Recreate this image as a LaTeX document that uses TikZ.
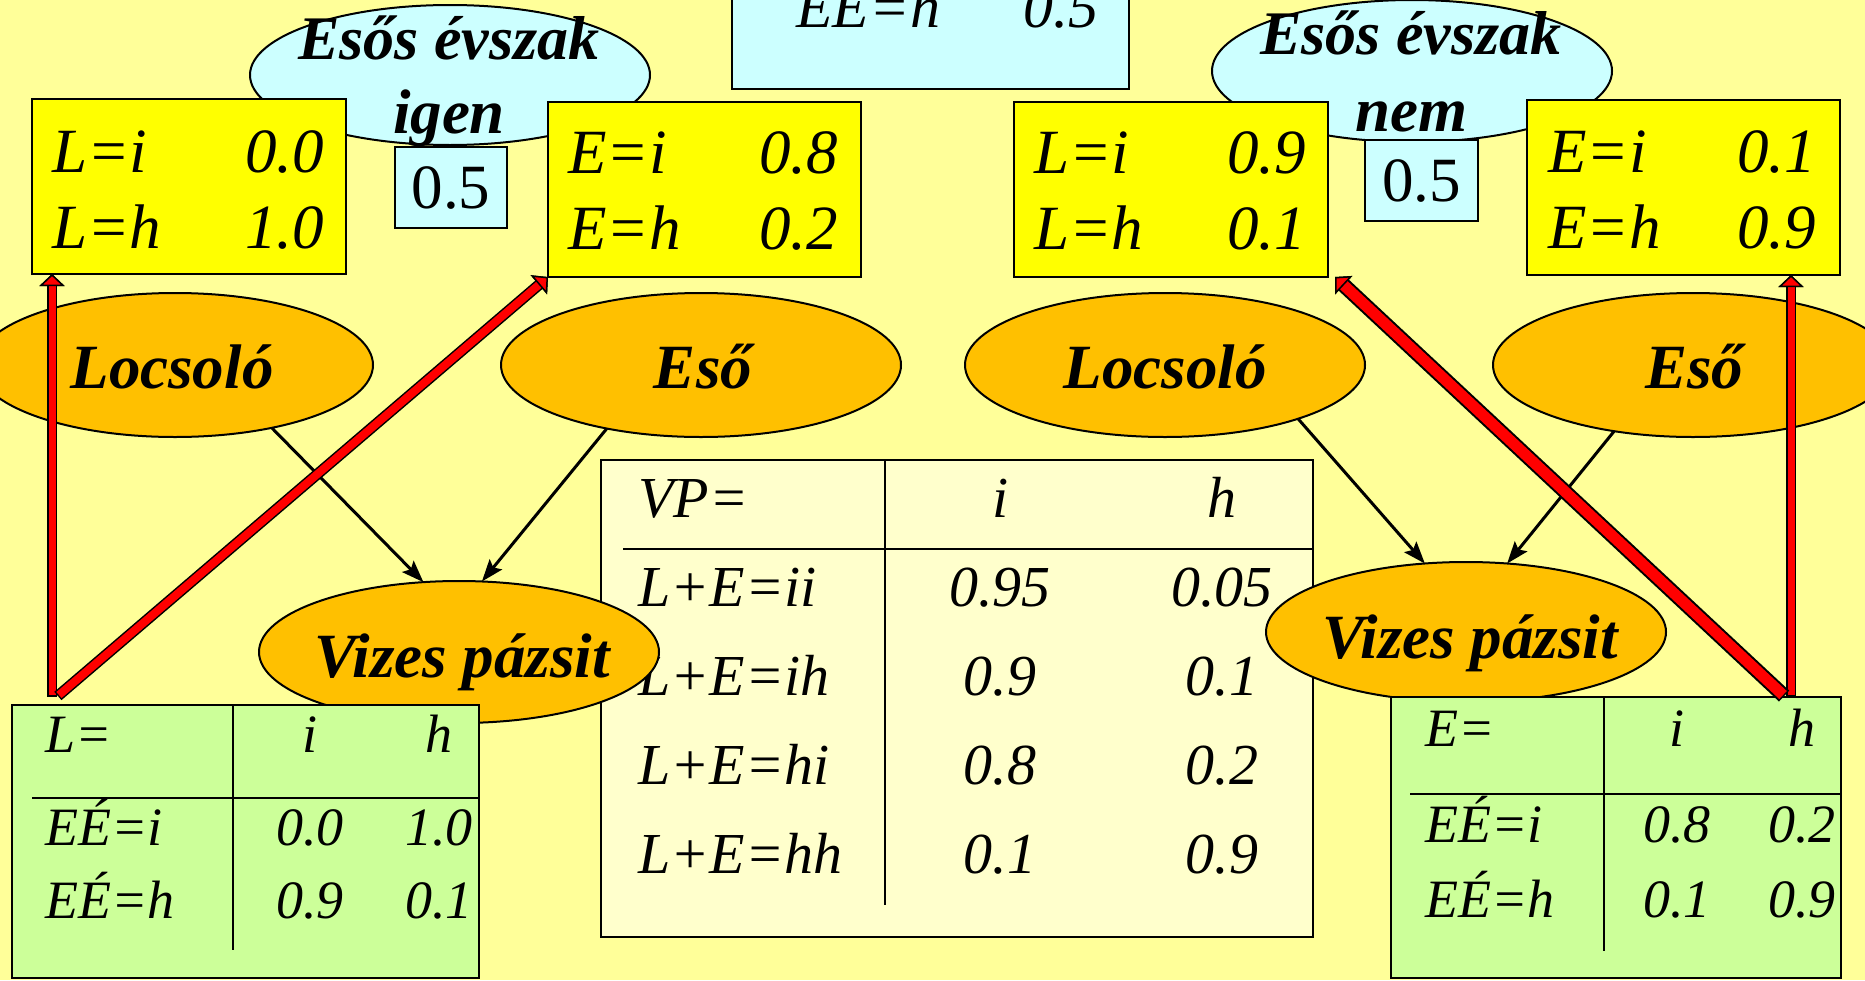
\documentclass[tikz,border=0pt]{standalone}
\usepackage{fontspec}
\setmainfont{Liberation Serif}
\usepackage{array}
\usetikzlibrary{arrows.meta,shapes.geometric,calc}

\definecolor{bgyel}{HTML}{FFFF99}
\definecolor{orng}{HTML}{FFC000}
\definecolor{cyanl}{HTML}{CCFFFF}
\definecolor{yelbox}{HTML}{FFFF00}
\definecolor{grn}{HTML}{CCFF99}
\definecolor{cream}{HTML}{FFFFCC}

\begin{document}
\begin{tikzpicture}[
  x=1pt,y=-1pt,
  var/.style={ellipse, draw=black, line width=2pt, fill=orng, outer sep=0pt, inner sep=0pt, minimum width=400pt, minimum height=144pt},
  season/.style={var, fill=cyanl, minimum height=142pt},
  cpt/.style={draw=black, line width=2.5pt, fill=yelbox, outer sep=0pt, inner sep=0pt, minimum width=314pt, minimum height=175pt},
  prior/.style={draw=black, line width=2.5pt, fill=cyanl, outer sep=0pt, inner sep=0pt, minimum width=112pt, minimum height=81pt, font=\fontsize{63}{76}\selectfont},
  tab/.style={draw=black, line width=2.5pt, outer sep=0pt, inner sep=0pt},
  rule/.style={draw=black, line width=2pt},
  varname/.style={anchor=base, inner sep=0pt, font=\fontsize{63}{74}\selectfont\bfseries\itshape},
  cell/.style={anchor=base west, inner sep=0pt, font=\fontsize{63}{76}\selectfont\itshape},
  vpcell/.style={cell, font=\fontsize{58}{89}\selectfont\itshape},
  lcell/.style={cell, font=\fontsize{54}{73}\selectfont\itshape},
  ecell/.style={cell, font=\fontsize{54}{75}\selectfont\itshape},
  dep/.style={-{Stealth[length=22pt,width=16pt,inset=4pt]}, line width=3pt},
  evid/.style 2 args={draw=red, line width=#1,
    -{Triangle[width=25pt,length=12pt,line width=1.5pt,fill=red,color=black]},
    preaction={draw=black, line width=#2, shorten <=-1.5pt,
      -{Triangle[width=25pt,length=12pt,line width=1.5pt,fill=black,color=black]}}}
]
\useasboundingbox (0,0) rectangle (1865,980);
\fill[bgyel] (0,0) rectangle (1865,980);

% top prior table (cut by the page edge)
\node[tab, fill=cyanl, minimum width=397pt, minimum height=189pt] (eetab) at (930.5,-5.5) {};
\node[cell, font=\fontsize{60}{76}\selectfont\itshape] (eetxt) at (796,27)
  {\begin{tabular*}{302pt}[t]{@{}l@{\extracolsep{\fill}}r@{}}EÉ=h & 0.5\end{tabular*}};

% ================= rainy season: yes =================
\node[season, minimum height=140pt] (esy) at (450,75) {};
\node[cpt] (lyes) at (189,186.5) {};
\node[cpt, minimum width=313pt] (eyes) at (704.5,189.5) {};
\node[prior] (py) at (451,187.5) {0.5};
\node[varname, font=\fontsize{62}{74}\selectfont\bfseries\itshape] (esyt) at (449,59) {Esős évszak};
\node[varname] (esyv) at (449,133) {igen};
\node[cell] (lyest) at (52,172)
  {\begin{tabular*}{272pt}[t]{@{}l@{\extracolsep{\fill}}r@{}}L=i & 0.0\\ L=h & 1.0\end{tabular*}};
\node[cell] (eyest) at (568,173)
  {\begin{tabular*}{270pt}[t]{@{}l@{\extracolsep{\fill}}r@{}}E=i & 0.8\\ E=h & 0.2\end{tabular*}};

% ================= rainy season: no =================
\node[season] (esn) at (1412,71) {};
\node[cpt] (lno) at (1171,189.5) {};
\node[cpt, minimum width=313pt] (eno) at (1683.5,187.5) {};
\node[prior, minimum width=113pt] (pn) at (1421.5,180.5) {0.5};
\node[varname, font=\fontsize{62}{74}\selectfont\bfseries\itshape] (esnt) at (1411,54) {Esős évszak};
\node[varname] (esnv) at (1411,131) {nem};
\node[cell] (lnot) at (1034,173)
  {\begin{tabular*}{272pt}[t]{@{}l@{\extracolsep{\fill}}r@{}}L=i & 0.9\\ L=h & 0.1\end{tabular*}};
\node[cell] (enot) at (1548,172)
  {\begin{tabular*}{268pt}[t]{@{}l@{\extracolsep{\fill}}r@{}}E=i & 0.1\\ E=h & 0.9\end{tabular*}};

% parent variables
\node[var, minimum width=396pt] (locsL) at (175,365) {};
\node[var] (esoL) at (701,365) {};
\node[var] (locsR) at (1165,365) {};
\node[var] (esoR) at (1693,365) {};
\node[varname] (locsLt) at (172,388) {Locsoló};
\node[varname] (esoLt) at (703,388) {Eső};
\node[varname] (locsRt) at (1165,388) {Locsoló};
\node[varname] (esoRt) at (1694,388) {Eső};

% conditional table of the wet lawn
\node[tab, fill=cream, minimum width=712pt, minimum height=477pt] (vptab) at (957,698.5) {};
\draw[rule] (885,460) -- (885,905);
\draw[rule] (623,549) -- (1313,549);
\node[vpcell] (vptxt) at (638,517)
  {\begin{tabular}[t]{@{}w{l}{300pt}@{}w{c}{124pt}@{}w{c}{320pt}@{}}
    VP= & i & h\\
    L+E=ii & 0.95 & 0.05\\
    L+E=ih & 0.9 & 0.1\\
    L+E=hi & 0.8 & 0.2\\
    L+E=hh & 0.1 & 0.9
  \end{tabular}};

% child variables
\node[var, minimum height=142pt] (vizL) at (459,652) {};
\node[var, minimum height=140pt] (vizR) at (1466,632) {};
\node[varname] (vizLt) at (462,677) {Vizes pázsit};
\node[varname] (vizRt) at (1470,658) {Vizes pázsit};

% evidence tables
\node[tab, fill=grn, minimum width=467pt, minimum height=273pt] (ltab) at (245.5,841.5) {};
\draw[rule] (233,705) -- (233,950);
\draw[rule] (32,798) -- (479,798);
\node[lcell] (ltabt) at (45,752)
  {\begin{tabular}[t]{@{}w{l}{230pt}@{}w{c}{70pt}@{}w{c}{188pt}@{}}
    L= & i & h\\[20pt]
    EÉ=i & 0.0 & 1.0\\
    EÉ=h & 0.9 & 0.1
  \end{tabular}};

\node[tab, fill=grn, minimum width=450pt, minimum height=281pt] (etab) at (1616,837.5) {};
\draw[rule] (1604,697) -- (1604,951);
\draw[rule] (1410,794) -- (1841,794);
\node[ecell] (etabt) at (1425,746)
  {\begin{tabular}[t]{@{}w{l}{215pt}@{}w{c}{74pt}@{}w{c}{176pt}@{}}
    E= & i & h\\[21pt]
    EÉ=i & 0.8 & 0.2\\
    EÉ=h & 0.1 & 0.9
  \end{tabular}};

% dependencies
\draw[dep] (locsL.-33) -- (vizL.117);
\draw[dep] (esoL.214) -- (vizL.72);
\draw[dep] (locsR.-22) -- (vizR.121);
\draw[dep] (esoR.220) -- (vizR.59);

% evidence going up
\draw[evid={7pt}{10pt}] ($(ltab.north west)+(40,-10)$) -- ($(lyes.south west)+(20,0)$);
\draw[evid={8pt}{11pt}] ($(ltab.north west)+(47,-10)$) -- (eyes.south west);
\draw[evid={7pt}{10pt}] ($(etab.north east)+(-50,-2)$) -- ($(eno.south east)+(-49,0)$);
\draw[evid={11pt}{15pt}] ($(etab.north east)+(-58,-2)$) -- ($(lno.south east)+(7,0)$);

\end{tikzpicture}
\end{document}
